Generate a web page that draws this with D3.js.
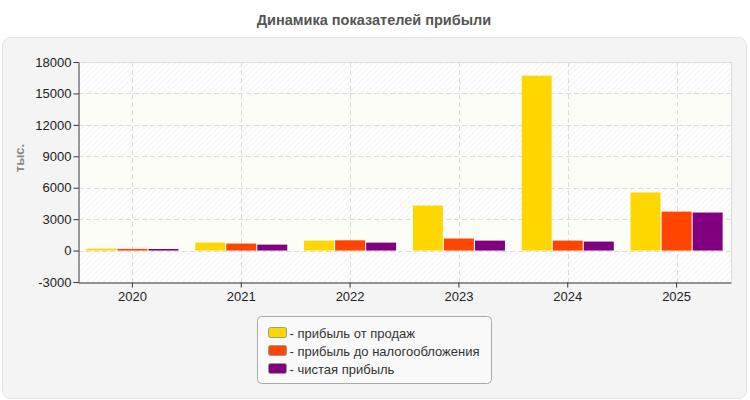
<!DOCTYPE html>
<html>
<head>
<meta charset="utf-8">
<script src="https://cdn.jsdelivr.net/npm/d3@7"></script>
<style>
  body { margin: 0; background: #fff; font-family: "Liberation Sans", Arial, sans-serif; }
</style>
</head>
<body>
<div id="chart"></div>
<script>
// data
var years = ["2020", "2021", "2022", "2023", "2024", "2025"];
var salesProfit = [190, 760, 950, 4300, 16700, 5540];
var preTaxProfit = [160, 670, 980, 1150, 950, 3720];
var netProfit = [150, 570, 760, 950, 860, 3630];
var seriesNames = ["- прибыль от продаж", "- прибыль до налогообложения", "- чистая прибыль"];
var seriesColors = ["#ffd700", "#ff4500", "#800080"];
var yTicks = [-3000, 0, 3000, 6000, 9000, 12000, 15000, 18000];

var width = 750, height = 400;
var plot = {left: 78, top: 62, right: 731, bottom: 282};

var svg = d3.select("#chart").append("svg")
  .attr("width", width)
  .attr("height", height);

var defs = svg.append("defs");
var pat = defs.append("pattern")
  .attr("id", "hatch")
  .attr("patternUnits", "userSpaceOnUse")
  .attr("width", 4)
  .attr("height", 4)
  .attr("patternTransform", "rotate(45)");
pat.append("rect").attr("width", 4).attr("height", 4).attr("fill", "#ffffff");
pat.append("line")
  .attr("x1", 0).attr("y1", 0).attr("x2", 0).attr("y2", 4)
  .attr("stroke", "#ebebeb").attr("stroke-width", 1.2);

// title
svg.append("text")
  .attr("x", 374)
  .attr("y", 25)
  .attr("text-anchor", "middle")
  .attr("font-size", "14.5px")
  .attr("font-weight", "bold")
  .style("fill", "#555")
  .text("Динамика показателей прибыли");

// panel
svg.append("rect")
  .attr("x", 2.5).attr("y", 37.5)
  .attr("width", 744).attr("height", 361)
  .attr("rx", 8)
  .style("fill", "#f4f4f4")
  .style("stroke", "#e2e2e2");

var x = d3.scaleBand()
  .domain(years)
  .range([plot.left, plot.right]);

var y = d3.scaleLinear()
  .domain([-3000, 18000])
  .range([plot.bottom, plot.top]);

var series = [salesProfit, preTaxProfit, netProfit];
var xInner = d3.scaleBand()
  .domain(d3.range(series.length))
  .range([0, x.bandwidth()])
  .paddingOuter(0.27)
  .paddingInner(0.035);

// plot background: hatched everywhere, plain bands every other step
svg.append("rect")
  .attr("x", plot.left).attr("y", plot.top)
  .attr("width", plot.right - plot.left)
  .attr("height", plot.bottom - plot.top)
  .style("fill", "url(#hatch)");

var bands = [];
for (var i = 0; i < yTicks.length - 1; i++) {
  if (i % 2 == 1) bands.push([yTicks[i], yTicks[i + 1]]);
}
svg.append("g").selectAll("rect")
  .data(bands)
  .enter()
  .append("rect")
  .attr("x", plot.left)
  .attr("width", plot.right - plot.left)
  .attr("y", function(d){ return y(d[1]); })
  .attr("height", function(d){ return y(d[0]) - y(d[1]); })
  .style("fill", "#fdfdf8");

// grid
svg.append("g").selectAll("line")
  .data(yTicks.slice(1, -1))
  .enter()
  .append("line")
  .attr("x1", plot.left).attr("x2", plot.right)
  .attr("y1", function(d){ return Math.round(y(d)) + 0.5; })
  .attr("y2", function(d){ return Math.round(y(d)) + 0.5; })
  .style("stroke", "#dcdcdc")
  .style("stroke-dasharray", "5,3");

svg.append("g").selectAll("line")
  .data(years)
  .enter()
  .append("line")
  .attr("y1", plot.top).attr("y2", plot.bottom)
  .attr("x1", function(d){ return Math.round(x(d) + x.bandwidth() / 2) + 0.5; })
  .attr("x2", function(d){ return Math.round(x(d) + x.bandwidth() / 2) + 0.5; })
  .style("stroke", "#dcdcdc")
  .style("stroke-dasharray", "5,3");

// top and right border
svg.append("path")
  .attr("d", "M" + plot.left + "," + (plot.top + 0.5) + "H" + (plot.right + 0.5) + "V" + plot.bottom)
  .style("fill", "none")
  .style("stroke", "#dcdcdc");

// bars
var groups = svg.append("g").selectAll("g")
  .data(years)
  .enter()
  .append("g")
  .attr("transform", function(d){ return "translate(" + x(d) + ",0)"; });

groups.selectAll("rect")
  .data(function(d, i){
    return series.map(function(s, k){ return {k: k, v: s[i]}; });
  })
  .enter()
  .append("rect")
  .attr("x", function(d){ return xInner(d.k); })
  .attr("width", xInner.bandwidth())
  .attr("y", function(d){ return y(Math.max(0, d.v)); })
  .attr("height", function(d){ return Math.abs(y(d.v) - y(0)); })
  .style("fill", function(d){ return seriesColors[d.k]; });

// axes
var yAxis = svg.append("g")
  .attr("transform", "translate(" + (plot.left + 0.5) + ",0)")
  .call(d3.axisLeft(y).tickValues(yTicks).tickSize(5).tickSizeOuter(0)
    .tickFormat(function(d){ return String(d); }));

var xAxis = svg.append("g")
  .attr("transform", "translate(0," + (plot.bottom + 0.5) + ")")
  .call(d3.axisBottom(x).tickSize(5).tickSizeOuter(0));

[yAxis, xAxis].forEach(function(ax){
  ax.select(".domain").style("stroke", "#333");
  ax.selectAll(".tick line").style("stroke", "#333");
  ax.selectAll("text")
    .attr("font-family", "Liberation Sans, Arial, sans-serif")
    .attr("font-size", "13px")
    .style("fill", "#222");
});
yAxis.selectAll("text").attr("x", -7);
xAxis.selectAll("text").attr("y", 9);

// y axis title
svg.append("text")
  .attr("transform", "translate(24,158) rotate(-90)")
  .attr("text-anchor", "middle")
  .attr("font-size", "13px")
  .attr("font-weight", "bold")
  .style("fill", "#888")
  .text("тыс.");

// legend
var legend = svg.append("g").attr("transform", "translate(257.5,316.5)");
legend.append("rect")
  .attr("width", 234).attr("height", 67)
  .attr("rx", 4)
  .style("fill", "#f9f9f9")
  .style("stroke", "#aaa");

var items = legend.selectAll("g.item")
  .data(seriesNames)
  .enter()
  .append("g")
  .attr("class", "item")
  .attr("transform", function(d, i){ return "translate(11," + (11 + 18 * i) + ")"; });

items.append("rect")
  .attr("width", 18).attr("height", 10)
  .attr("rx", 2)
  .style("fill", function(d, i){ return seriesColors[i]; })
  .style("stroke", "#999");

items.append("text")
  .attr("x", 21)
  .attr("y", 10)
  .attr("font-size", "13px")
  .style("fill", "#333")
  .text(function(d){ return d; });
</script>
</body>
</html>
